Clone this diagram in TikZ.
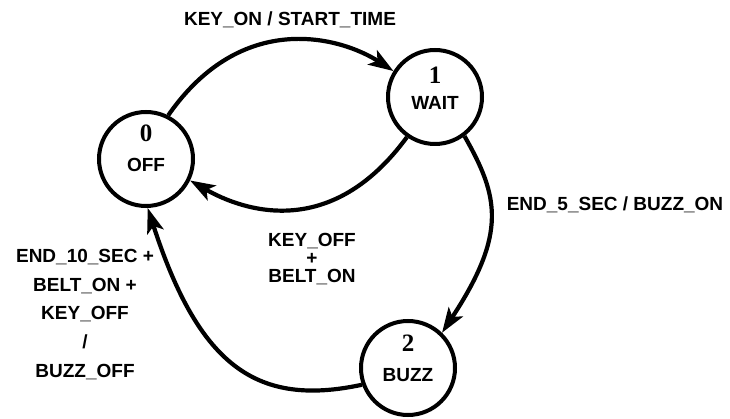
\documentclass[tikz,border=0pt]{standalone}
\usepackage{fontspec}
\setmainfont{Liberation Sans}
\newfontfamily\numfont{Liberation Serif}
\usetikzlibrary{arrows.meta}
\begin{document}
\begin{tikzpicture}[x=1pt,y=-1pt,
  state/.style={circle,draw,line width=4pt,minimum size=94pt,inner sep=0pt},
  num/.style={font=\numfont\bfseries\fontsize{25}{25}\selectfont,inner sep=0pt},
  lbl/.style={font=\bfseries\fontsize{19}{19}\selectfont,inner sep=0pt},
  edge/.style={line width=4.2pt,-{Stealth[length=25pt,width=17pt,inset=6pt]}}]
\useasboundingbox (0,0) rectangle (730,419);
% states
\node[state] (s0) at (146,159) {};
\node[state] (s1) at (435,97) {};
\node[state] (s2) at (408,368) {};
\node[num] (n0) at (146,133) {0};
\node[lbl] (t0) at (146,165) {OFF};
\node[num] (n1) at (435,75) {1};
\node[lbl] (t1) at (435,103) {WAIT};
\node[num] (n2) at (408,343) {2};
\node[lbl] (t2) at (408,375) {BUZZ};
% transitions
\draw[edge] (s0.63) .. controls (242.5,8.6) and (341.5,37.4) .. (s1.148);
\draw[edge] (s1.235) .. controls (331,240.8) and (243.7,211.2) .. (s0.-26);
\draw[edge] (s1.-53) .. controls (498.7,196.3) and (507.6,233) .. (s2.46);
\draw[edge] (s2.200) .. controls (257.9,407) and (199.4,367.6) .. (s0.-88);
% labels
\node[lbl] (l01) at (290,20) {KEY\_ON / START\_TIME};
\node[lbl,align=center] (l10) at (312,259) {KEY\_OFF\\[-1pt]+\\[-1pt]BELT\_ON};
\node[lbl] (l12) at (615,205) {END\_5\_SEC / BUZZ\_ON};
\node[lbl,align=center,font=\bfseries\fontsize{19}{28.7}\selectfont] (l20) at (85,314.5)
  {END\_10\_SEC +\\BELT\_ON +\\KEY\_OFF\\/\\BUZZ\_OFF};
\end{tikzpicture}
\end{document}
